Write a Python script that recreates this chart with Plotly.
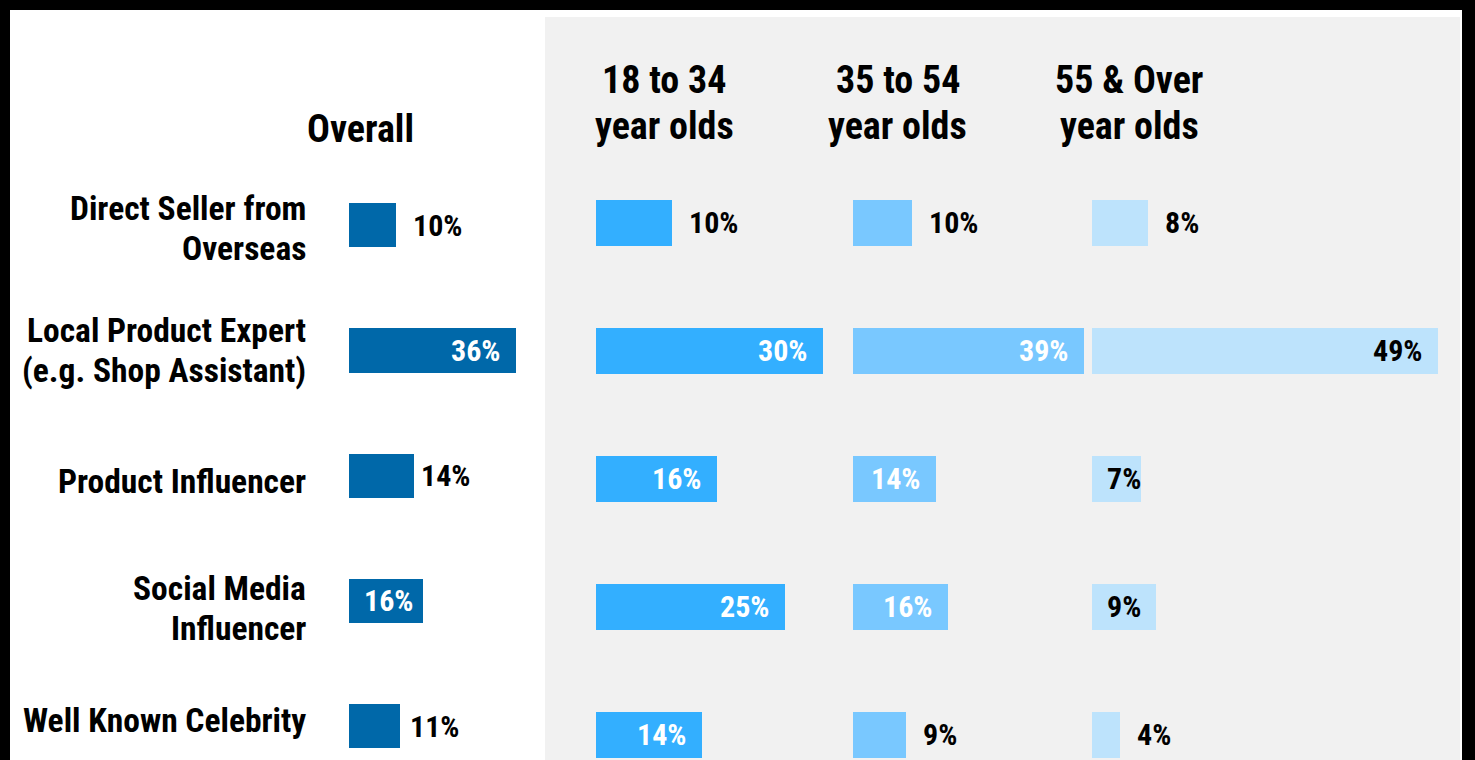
import plotly.graph_objects as go

# ---------------- data ----------------
categories = [
    "Direct Seller from<br>Overseas",
    "Local Product Expert<br>(e.g. Shop Assistant)",
    "Product Influencer",
    "Social Media<br>Influencer",
    "Well Known Celebrity",
]
overall = [10, 36, 14, 16, 11]
age_18_34 = [10, 30, 16, 25, 14]
age_35_54 = [10, 39, 14, 16, 9]
age_55_over = [8, 49, 7, 9, 4]
headers = ["Overall", "18 to 34<br>year olds", "35 to 54<br>year olds", "55 & Over<br>year olds"]

# label placement style (inside / outside the bar) and outside gap in px
modes_overall = ["out", "in", "out", "in", "out"]
modes_18_34 = ["out", "in", "in", "in", "in"]
modes_35_54 = ["out", "in", "in", "in", "out"]
modes_55 = ["out", "in", "in", "in", "out"]
gap_overall = [18, 18, 8, 18, 11]
gap_default = [18, 18, 18, 18, 18]

# ---------------- layout helpers ----------------
W, H = 1475, 760
FONT = "Roboto Condensed, Liberation Sans Narrow, DejaVu Sans Condensed, Arial Narrow, sans-serif"


def xp(px):
    return px / W


def yp(py):
    return 1 - py / H


panels = [
    dict(vals=overall, modes=modes_overall, gaps=gap_overall, x0=349, scale=4.65, rmax=40, color="#0068A9", tin="white", ax="x", yax="y"),
    dict(vals=age_18_34, modes=modes_18_34, gaps=gap_default, x0=596, scale=7.57, rmax=33, color="#33AFFF", tin="white", ax="x2", yax="y2"),
    dict(vals=age_35_54, modes=modes_35_54, gaps=gap_default, x0=853, scale=5.92, rmax=39.5, color="#79C8FF", tin="white", ax="x3", yax="y2"),
    dict(vals=age_55_over, modes=modes_55, gaps=gap_default, x0=1092, scale=7.06, rmax=52, color="#BDE3FC", tin="black", ax="x4", yax="y2"),
]

fig = go.Figure()

ycats = list(range(len(categories)))

for p in panels:
    fig.add_trace(go.Bar(
        x=p["vals"], y=ycats, orientation="h",
        marker=dict(color=p["color"], line=dict(width=0)),
        width=0.355,
        xaxis=p["ax"], yaxis=p["yax"],
        hoverinfo="skip", showlegend=False,
    ))


def yaxis_cfg(c0, spacing):
    top_val = -1.0
    top_px = c0 + top_val * spacing
    bottom_val = (H - c0) / spacing
    return dict(range=[bottom_val, top_val], domain=[0, yp(top_px)],
                visible=False, fixedrange=True)

ov_c0, ov_sp = 225, 125.25
gr_c0, gr_sp = 222.5, 128

layout = dict(
    width=W, height=H,
    margin=dict(l=0, r=0, t=0, b=0),
    paper_bgcolor="black",
    plot_bgcolor="rgba(0,0,0,0)",
    bargap=0,
    font=dict(family=FONT, color="black"),
    yaxis=yaxis_cfg(ov_c0, ov_sp),
    yaxis2=yaxis_cfg(gr_c0, gr_sp),
)
for i, p in enumerate(panels):
    key = "xaxis" if i == 0 else f"xaxis{i+1}"
    layout[key] = dict(
        range=[0, p["rmax"]],
        domain=[xp(p["x0"]), xp(p["x0"] + p["scale"] * p["rmax"])],
        anchor=p["yax"], visible=False, fixedrange=True,
    )
fig.update_layout(**layout)

fig.add_shape(type="rect", xref="paper", yref="paper", x0=xp(10), x1=xp(1462), y0=0, y1=yp(10),
              fillcolor="white", line=dict(width=0), layer="below")
fig.add_shape(type="rect", xref="paper", yref="paper", x0=xp(545), x1=xp(1460), y0=0, y1=yp(17),
              fillcolor="#F1F1F1", line=dict(width=0), layer="below")

VAL_FS = 30
LAB_FS = 33.5
HEAD_FS = 38


def text_w(s):
    return 15 * (len(s) - 1) + 19


annotations = []
for p in panels:
    for i, (v, m, g) in enumerate(zip(p["vals"], p["modes"], p["gaps"])):
        s = f"{v}%"
        bar_px = v * p["scale"]
        if m == "out":
            ann = dict(x=v, xanchor="left", xshift=g - 3, font=dict(color="black"))
        else:
            if bar_px - 17 - text_w(s) >= 16:
                ann = dict(x=v, xanchor="right", xshift=-14, font=dict(color=p["tin"]))
            else:
                ann = dict(x=0, xanchor="left", xshift=13, font=dict(color=p["tin"]))
        ann.update(xref=p["ax"], yref=p["yax"], y=i, text=f"<b>{s}</b>",
                   showarrow=False, yanchor="middle")
        ann["font"].update(size=VAL_FS, family=FONT)
        annotations.append(ann)

# category labels, one annotation per line
label_nudge = [-3, 0, -6, -8, 6]
LAB_LINE = 40
for i, c in enumerate(categories):
    lines = c.split("<br>")
    n = len(lines)
    for k, ln in enumerate(lines):
        off = (k - (n - 1) / 2) * LAB_LINE
        annotations.append(dict(
            xref="paper", yref="y", x=xp(305), xshift=3, y=i, yshift=-off + label_nudge[i],
            text=f"<b>{ln}</b>", xanchor="right", yanchor="middle", align="right",
            showarrow=False, font=dict(size=LAB_FS, family=FONT, color="black"),
        ))

# headers
header_pos = [(360, 129), (664, 103), (898, 103), (1129, 103)]
HEAD_LINE = 46
for h, (hx, hy) in zip(headers, header_pos):
    lines = h.split("<br>")
    n = len(lines)
    for k, ln in enumerate(lines):
        off = (k - (n - 1) / 2) * HEAD_LINE
        annotations.append(dict(
            xref="paper", yref="paper", x=xp(hx), y=yp(hy + off),
            text=f"<b>{ln}</b>", xanchor="center", yanchor="middle", align="center",
            showarrow=False, font=dict(size=HEAD_FS, family=FONT, color="black"),
        ))

fig.update_layout(annotations=annotations)
fig.write_html("out.html")
